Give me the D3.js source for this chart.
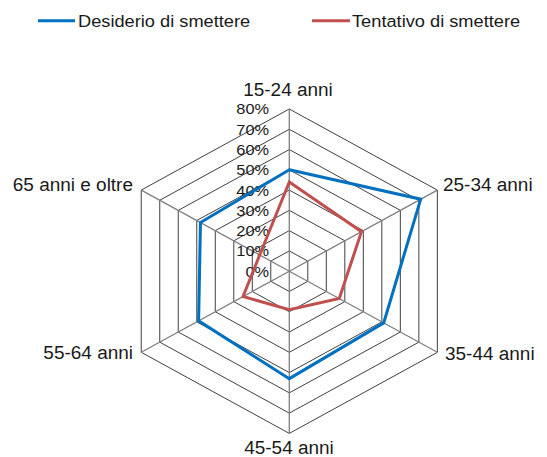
<!DOCTYPE html>
<html><head><meta charset="utf-8">
<script src="https://cdn.jsdelivr.net/npm/d3@7"></script>
<style>body{margin:0;background:#fff}svg{display:block}text{font-family:"Liberation Sans",Arial,sans-serif;fill:#1a1a1a}</style>
</head><body>
<svg id="chart" width="547" height="457"></svg>
<script>
const categories = ["15-24 anni","25-34 anni","35-44 anni","45-54 anni","55-64 anni","65 anni e oltre"];
const desiderio = [0.50, 0.71, 0.51, 0.53, 0.49, 0.48];
const tentativo = [0.44, 0.39, 0.27, 0.19, 0.25, 0.16];
const seriesNames = ["Desiderio di smettere","Tentativo di smettere"];
const seriesColors = ["#0070C0","#C0504D"];
const tickValues = [0,0.1,0.2,0.3,0.4,0.5,0.6,0.7,0.8];

const svg = d3.select("#chart");
const cx = 289.3, cy = 271.2, R = 162.2, sx = 1.054;
const r = d3.scaleLinear().domain([0,0.8]).range([0,R]);
const ang = d3.scaleLinear().domain([0,categories.length]).range([0,2*Math.PI]);
const px = (i,v) => cx + sx*r(v)*Math.sin(ang(i));
const py = (i,v) => cy - r(v)*Math.cos(ang(i));
const idx = d3.range(categories.length);

const line = d3.line().x(d=>d[0]).y(d=>d[1]).curve(d3.curveLinearClosed);

// rings
svg.append("g").selectAll("path").data(tickValues.filter(t=>t>0)).join("path")
  .attr("d", t => line(idx.map(i=>[px(i,t),py(i,t)])))
  .attr("fill","none").attr("stroke","#404040").attr("stroke-width",1);
// spokes
svg.append("g").selectAll("line").data(idx).join("line")
  .attr("x1",cx).attr("y1",cy)
  .attr("x2",i=>px(i,0.8)).attr("y2",i=>py(i,0.8))
  .attr("stroke","#7f7f7f").attr("stroke-width",1.3);

// tick labels
const fmt = d3.format(".0%");
svg.append("g").selectAll("text").data(tickValues).join("text")
  .attr("x",269).attr("y",t=>py(0,t)).attr("dy","0.35em")
  .attr("text-anchor","end").attr("font-size",15.5)
  .attr("transform",`translate(269,0) scale(${sx},1) translate(-269,0)`)
  .text(fmt);

// series (red first, blue on top)
[tentativo,desiderio].forEach((s,j)=>{
  const k = j===0 ? 1 : 0;
  svg.append("path")
    .attr("d", line(s.map((v,i)=>[px(i,v),py(i,v)])))
    .attr("fill","none").attr("stroke",seriesColors[k]).attr("stroke-width",3)
    .attr("stroke-linejoin","miter");
});

// category labels
const labelPos = [
  {x:288, y:90, a:"middle"},
  {x:443, y:185, a:"start"},
  {x:445, y:354, a:"start"},
  {x:289, y:448, a:"middle"},
  {x:133, y:353, a:"end"},
  {x:133, y:185, a:"end"}
];
svg.append("g").selectAll("text").data(idx).join("text")
  .attr("x",i=>labelPos[i].x).attr("y",i=>labelPos[i].y).attr("dy","0.35em")
  .attr("text-anchor",i=>labelPos[i].a).attr("font-size",18)
  .attr("transform",i=>`translate(${labelPos[i].x},0) scale(${sx},1) translate(${-labelPos[i].x},0)`)
  .text(i=>categories[i]);

// legend
const leg = [{x1:38, x2:75, tx:78}, {x1:312, x2:350, tx:352}];
seriesNames.forEach((n,k)=>{
  svg.append("line").attr("x1",leg[k].x1).attr("x2",leg[k].x2).attr("y1",20.7).attr("y2",20.7)
    .attr("stroke",seriesColors[k]).attr("stroke-width",3);
  svg.append("text").attr("x",leg[k].tx).attr("y",21).attr("dy","0.35em")
    .attr("font-size",17.3)
    .attr("transform",`translate(${leg[k].tx},0) scale(${sx},1) translate(${-leg[k].tx},0)`)
    .text(n);
});
</script>
</body></html>
